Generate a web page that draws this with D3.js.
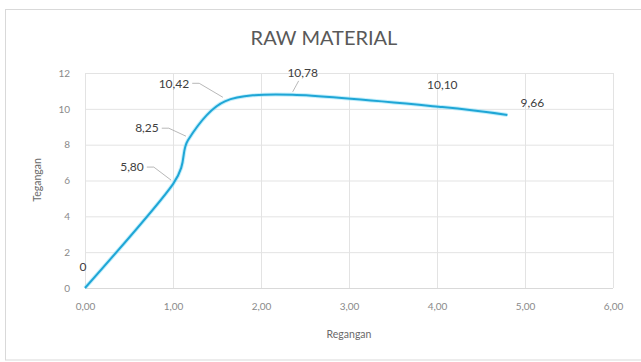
<!DOCTYPE html>
<html>
<head>
<meta charset="utf-8">
<script src="https://cdn.jsdelivr.net/npm/d3@7/dist/d3.min.js"></script>
<style>
  html, body { margin: 0; padding: 0; background: #fff; }
  svg { display: block; }
  text { font-family: Lato, "Open Sans", "Liberation Sans", sans-serif; }
</style>
</head>
<body>
<svg id="chart" width="641" height="362"></svg>
<script>
// Stress–strain curve of the raw material
const regangan = [0, 1.00, 1.17, 1.59, 2.36, 4.06, 4.80];
const tegangan = [0, 5.80, 8.25, 10.42, 10.78, 10.10, 9.66];
const labelText = ["0", "5,80", "8,25", "10,42", "10,78", "10,10", "9,66"];
const xTicks = [0, 1, 2, 3, 4, 5, 6];
const yTicks = [0, 2, 4, 6, 8, 10, 12];

// Where each data label sits relative to its point (px), and whether it has a leader line
const labelOffsets = [[-2, -21], [-41, -17], [-41, -12], [-51, -18], [10, -22], [0, -22], [25, -12]];
const hasLeader = [false, true, true, true, true, false, false];

const svg = d3.select("#chart");
const m = { left: 85, right: 613, top: 73, bottom: 288 };

// chart frame
svg.append("rect")
  .attr("x", 5.5).attr("y", 9.5).attr("width", 650).attr("height", 350.5)
  .attr("fill", "#fff").attr("stroke", "#d9d9d9").attr("stroke-width", 1);

const x = d3.scaleLinear().domain([0, 6]).range([m.left, m.right]);
const y = d3.scaleLinear().domain([0, 12]).range([m.bottom, m.top]);
const fmt = d => d.toFixed(2).replace(".", ",");

// vertical gridlines + x tick labels
svg.append("g")
  .attr("transform", `translate(0,${m.bottom})`)
  .call(d3.axisBottom(x).tickValues(xTicks).tickSize(-(m.bottom - m.top)).tickFormat(fmt).tickPadding(15))
  .call(g => g.select(".domain").remove())
  .call(g => g.selectAll("line").attr("stroke", "#e3e3e3").attr("stroke-width", 1))
  .call(g => g.selectAll("text").attr("fill", "#8a8a8a").attr("font-size", 10));

// horizontal gridlines + y tick labels
svg.append("g")
  .attr("transform", `translate(${m.left},0)`)
  .call(d3.axisLeft(y).tickValues(yTicks).tickSize(-(m.right - m.left)).tickFormat(d3.format("d")).tickPadding(15))
  .call(g => g.select(".domain").remove())
  .call(g => g.selectAll("line").attr("stroke", "#e3e3e3").attr("stroke-width", 1))
  .call(g => g.selectAll("text").attr("fill", "#8a8a8a").attr("font-size", 10));

// bottom axis line
svg.append("line")
  .attr("x1", m.left).attr("x2", m.right).attr("y1", m.bottom + 0.5).attr("y2", m.bottom + 0.5)
  .attr("stroke", "#d9d9d9");

// title
svg.append("text")
  .attr("x", 324).attr("y", 45).attr("text-anchor", "middle")
  .attr("font-size", 20).attr("fill", "#595959")
  .text("RAW MATERIAL");

// axis titles
svg.append("text")
  .attr("x", (m.left + m.right) / 2).attr("y", 338).attr("text-anchor", "middle")
  .attr("font-size", 10.5).attr("fill", "#6a6a6a")
  .text("Regangan");
svg.append("text")
  .attr("transform", "translate(41,180) rotate(-90)").attr("text-anchor", "middle")
  .attr("font-size", 10.5).attr("fill", "#6a6a6a")
  .text("Tegangan");

// smoothed curve
const pts = regangan.map((r, i) => [r, tegangan[i]]);
const line = d3.line().x(d => x(d[0])).y(d => y(d[1])).curve(d3.curveCardinal.tension(0.15));
svg.append("path").datum(pts)
  .attr("d", line).attr("fill", "none")
  .attr("stroke", "#8fe0f8").attr("stroke-width", 4).attr("stroke-opacity", 0.55);
svg.append("path").datum(pts)
  .attr("d", line).attr("fill", "none")
  .attr("stroke", "#1fa6d6").attr("stroke-width", 2);

// data labels and leader lines
const labels = svg.append("g");
pts.forEach((p, i) => {
  const px = x(p[0]), py = y(p[1]);
  const lx = px + labelOffsets[i][0], ly = py + labelOffsets[i][1];
  const t = labels.append("text")
    .attr("x", lx).attr("y", ly).attr("dy", "0.35em")
    .attr("text-anchor", "middle").attr("font-size", 12).attr("fill", "#404040")
    .text(labelText[i]);
  if (hasLeader[i]) {
    const w = t.node().getComputedTextLength();
    let d;
    if (lx + w / 2 < px) {
      const sx = lx + w / 2 + 3;
      d = `M${sx},${ly}H${sx + 7}L${px - 2},${py - 4}`;
    } else {
      d = `M${lx - 4},${ly + 8}L${px},${py - 3}`;
    }
    labels.append("path").attr("d", d).attr("fill", "none")
      .attr("stroke", "#a6a6a6").attr("stroke-width", 0.8);
  }
});
</script>
</body>
</html>
